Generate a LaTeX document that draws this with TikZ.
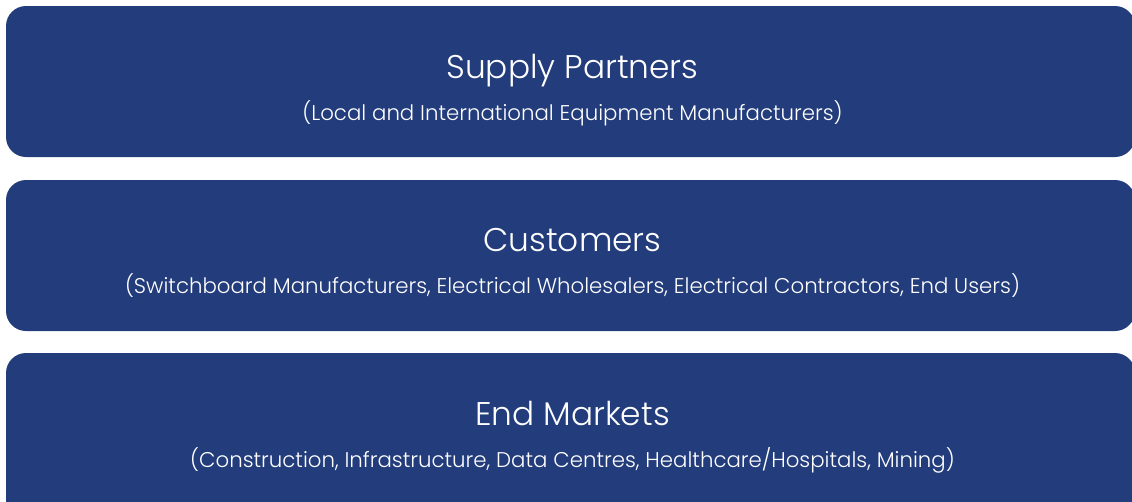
\documentclass[tikz,border=0pt]{standalone}
\usepackage{fontspec}
\setmainfont{Poppins}[UprightFont={* Light}]
\definecolor{boxblue}{HTML}{233C7B}
\begin{document}
\begin{tikzpicture}[x=1pt,y=-1pt,
  panel/.style={fill=boxblue,rounded corners=20pt},
  ttl/.style={text=white,anchor=base,inner sep=0pt,font=\fontsize{32.8}{38}\selectfont},
  sub/.style={text=white,anchor=base,inner sep=0pt,font=\fontsize{21.3}{25}\selectfont}]
\useasboundingbox (0,0) rectangle (1132,501);
\fill[panel] (6,6) rectangle (1135,157);
\fill[panel] (6,180) rectangle (1135,331);
\fill[panel] (6,353) rectangle (1135,520);
\node[ttl] (t1) at (572.5,78) {Supply Partners};
\node[sub] (s1) at (572.5,120) {(Local and International Equipment Manufacturers)};
\node[ttl] (t2) at (572.5,251) {Customers};
\node[sub] (s2) at (572.5,293) {(Switchboard Manufacturers, Electrical Wholesalers, Electrical Contractors, End Users)};
\node[ttl] (t3) at (572.5,425) {End Markets};
\node[sub] (s3) at (572.5,467) {(Construction, Infrastructure, Data Centres, Healthcare/Hospitals, Mining)};
\end{tikzpicture}
\end{document}
